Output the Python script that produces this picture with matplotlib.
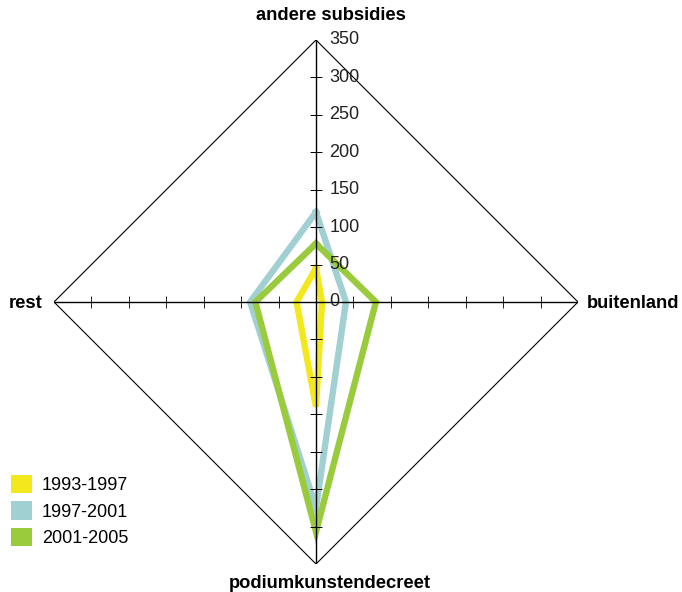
import matplotlib.pyplot as plt
import numpy as np
from matplotlib.patches import Patch

plt.rcParams['font.family'] = ['Liberation Sans', 'DejaVu Sans']

# data
categories = ['andere subsidies', 'buitenland', 'podiumkunstendecreet', 'rest']
periods = ['1993-1997', '1997-2001', '2001-2005']
v_1993 = [45, 8, 140, 26]
v_1997 = [120, 40, 275, 88]
v_2001 = [78, 80, 307, 81]
colors = ['#f2e81c', '#a0d0d2', '#9acb3c']
ticks = [50, 100, 150, 200, 250, 300]
tick_labels = ['0', '50', '100', '150', '200', '250', '300', '350']
rmax = 350

fig = plt.figure(figsize=(6.82, 5.92), dpi=100)
ax = fig.add_axes([54/682, 28/592, 524/682, 524/592], projection='polar')
ax.set_theta_zero_location('N')
ax.set_theta_direction(-1)
ax.set_ylim(0, rmax)
ax.axis('off')

angles = np.arange(len(categories)) * 2*np.pi/len(categories)
closed = np.append(angles, angles[0])

# data polygons
for vals, c in zip([v_1993, v_1997, v_2001], colors):
    ax.plot(closed, vals + vals[:1], color=c, lw=4.6,
            solid_joinstyle='miter', zorder=2)

# outer diamond
ax.plot(closed, [rmax]*5, color='black', lw=0.8, zorder=3)

# spokes + tick marks
for i, a in enumerate(angles):
    ax.plot([a, a], [0, rmax], color='black', lw=1, zorder=4)
    mk = '_' if i % 2 == 0 else '|'
    ax.plot([a]*len(ticks), ticks, ls='none', marker=mk, ms=9,
            mew=0.6, color='black', zorder=4)

# value labels along the top axis
for k, lab in enumerate(tick_labels):
    ax.annotate(lab, xy=(0, k*50), xytext=(9.5, 0), textcoords='offset points',
                ha='left', va='center', fontsize=13, color='#222222',
                zorder=5)

# category labels
fig.text(331/682, 1-15/592, categories[0], ha='center', va='center',
         fontsize=13.2, fontweight='bold')
fig.text(587/682, 1-303/592, categories[1], ha='left', va='center',
         fontsize=13.2, fontweight='bold')
fig.text(330/682, 1-583/592, categories[2], ha='center', va='center',
         fontsize=13.2, fontweight='bold')
fig.text(43/682, 1-303/592, categories[3], ha='right', va='center',
         fontsize=13.2, fontweight='bold')

handles = [Patch(facecolor=c, edgecolor='none') for c in colors]
fig.legend(handles, periods, loc='lower left',
           bbox_to_anchor=(11/682, 45/592), frameon=False,
           fontsize=13, handlelength=1.17, handleheight=1.17,
           handletextpad=0.55, labelspacing=0.4, borderpad=0,
           borderaxespad=0)

fig.savefig('out.png', dpi=100)
